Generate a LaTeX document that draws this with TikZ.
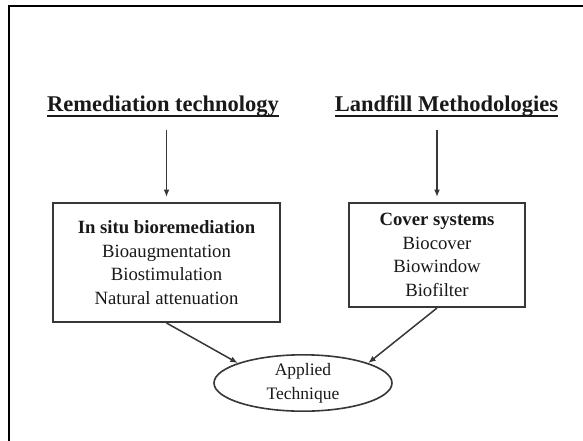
\documentclass[tikz,border=0pt]{standalone}
\usepackage{fontspec}
\setmainfont{Liberation Serif}
\usetikzlibrary{arrows.meta,shapes.geometric}
\definecolor{linegray}{RGB}{55,55,55}
\definecolor{textgray}{RGB}{25,25,25}
\begin{document}
\begin{tikzpicture}[x=1pt,y=-1pt,
  heading/.style={font=\fontsize{22.5}{26}\selectfont\bfseries, text=textgray, inner sep=0pt, anchor=base},
  boxnode/.style={draw=linegray, line width=2pt, align=center, text=textgray,
    font=\fontsize{18.7}{23.5}\selectfont, inner sep=0pt},
  ovalnode/.style={draw=linegray, line width=1.6pt, ellipse, align=center, text=textgray,
    font=\fontsize{17.5}{24}\selectfont, inner sep=0pt},
  arr/.style={draw=linegray, line width=1.5pt, -{Latex[length=7.5pt,width=6pt]}},
  uline/.style={draw=textgray, line width=1.4pt},
]
\useasboundingbox (0,0) rectangle (583,441);
\fill[white] (0,0) rectangle (583,441);
\draw[line width=2pt] (8.7,441) -- (8.7,6) -- (583,6);

\node[heading] (rt) at (163,112) {Remediation technology};
\node[heading] (lm) at (446.5,112) {Landfill Methodologies};
\draw[uline] ([yshift=-4pt]rt.base west) -- ([yshift=-4pt]rt.base east);
\draw[uline] ([yshift=-4pt]lm.base west) -- ([yshift=-4pt]lm.base east);

\node[boxnode, minimum width=227pt, minimum height=119pt] (lbox) at (166.5,262.5)
  {\textbf{In situ bioremediation}\\Bioaugmentation\\Biostimulation\\Natural attenuation};
\node[boxnode, minimum width=176pt, minimum height=104pt] (rbox) at (437,255)
  {\textbf{Cover systems}\\Biocover\\Biowindow\\Biofilter};

\node[ovalnode, minimum width=178pt, minimum height=55pt] (el) at (303,383)
  {Applied\\Technique};

\draw[arr, shorten <=13pt, shorten >=5pt] (lbox.north |- rt.south) -- (lbox.north);
\draw[arr, shorten <=13pt, shorten >=5pt] (rbox.north |- lm.south) -- (rbox.north);
\draw[arr] (lbox.south) -- (el.163);
\draw[arr] (rbox.south) -- (el.17);
\end{tikzpicture}
\end{document}
